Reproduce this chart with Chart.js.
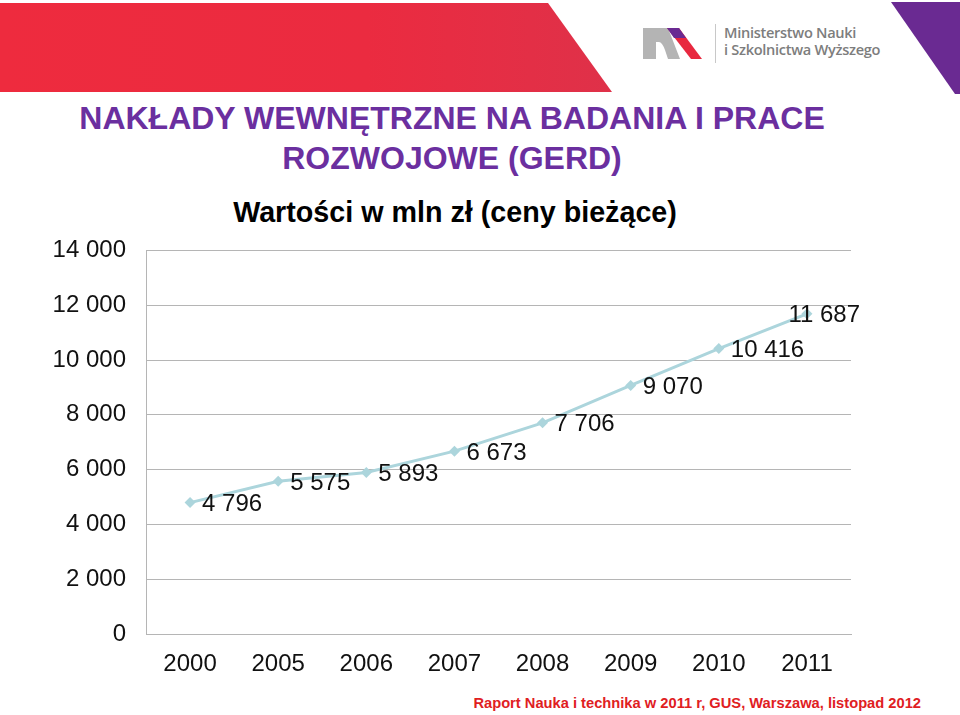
<!DOCTYPE html>
<html>
<head>
<meta charset="utf-8">
<script src="https://cdn.jsdelivr.net/npm/chart.js@4"></script>
<style>
  html, body { margin: 0; padding: 0; background: #fff; }
  body { width: 960px; height: 715px; position: relative; overflow: hidden; font-family: Arial, "Liberation Sans", sans-serif; }
  .title { position: absolute; left: 0; top: 98px; width: 904px; text-align: center; color: #6b2f9f; font-weight: bold; font-size: 32px; line-height: 40px; }
  .subtitle { position: absolute; left: 0; top: 196px; width: 910px; text-align: center; color: #000; font-weight: bold; font-size: 28.7px; line-height: 32px; }
  .source { position: absolute; right: 39px; top: 693px; color: #e0201f; font-weight: bold; font-size: 14.7px; line-height: 20px; }
  .logoText { position: absolute; left: 724px; top: 24px; color: #7d7d7d; font-family: "Open Sans", sans-serif; font-weight: 600; font-size: 14.6px; line-height: 17px; letter-spacing: -0.3px; }
  .chartBox { position: absolute; left: 0; top: 216px; width: 960px; height: 474px; }
</style>
</head>
<body>
<svg width="960" height="100" style="position:absolute;left:0;top:0">
  <defs>
    <linearGradient id="red" x1="0" x2="1" y1="0" y2="0">
      <stop offset="0" stop-color="#ee2b3e"/>
      <stop offset="0.6" stop-color="#eb2b40"/>
      <stop offset="1" stop-color="#df3149"/>
    </linearGradient>
  </defs>
  <polygon points="0,3 548,3 612,92 0,92" fill="url(#red)"/>
  <polygon points="891,2 960,2 960,94 955,94" fill="#6a2a92"/>
  <!-- logo mark -->
  <path d="M643,59 L643,28 L668,28 L680,59 L668,59 L665,50 Q662,42 659,42 L656,42 L656,59 Z" fill="#b4b4b4"/>
  <polygon points="667,28 679,28 702,59 691,59" fill="#e8283f"/>
  <polygon points="667,28 679,28 686,38 674,38" fill="#6a2a92"/>
  <line x1="715.5" y1="24" x2="715.5" y2="63" stroke="#c8c8c8" stroke-width="1"/>
</svg>
<div class="logoText">Ministerstwo Nauki<br>i Szkolnictwa Wyższego</div>

<div class="title">NAKŁADY WEWNĘTRZNE NA BADANIA I PRACE<br>ROZWOJOWE (GERD)</div>
<div class="subtitle">Wartości w mln zł (ceny bieżące)</div>

<div class="chartBox"><canvas id="chart"></canvas></div>

<div class="source">Raport Nauka i technika w 2011 r, GUS, Warszawa, listopad 2012</div>

<script>
// dane: nakłady GERD, mln zł
const years = ['2000', '2005', '2006', '2007', '2008', '2009', '2010', '2011'];
const gerdValues = [4796, 5575, 5893, 6673, 7706, 9070, 10416, 11687];
const yTicks = [0, 2000, 4000, 6000, 8000, 10000, 12000, 14000];

const fmt = (v) => String(v).replace(/\B(?=(\d{3})+(?!\d))/g, ' ');

// etykiety wartości obok punktów (jak w Excelu: po prawej)
const valueLabels = {
    id: 'valueLabels',
    afterDatasetsDraw(chart) {
        const ctx = chart.ctx;
        const meta = chart.getDatasetMeta(0);
        const area = chart.chartArea;
        ctx.save();
        ctx.font = '24px Arial, "Liberation Sans", sans-serif';
        ctx.fillStyle = '#111';
        ctx.textBaseline = 'middle';
        ctx.textAlign = 'left';
        meta.data.forEach((pt, i) => {
            const txt = fmt(gerdValues[i]);
            const w = ctx.measureText(txt).width;
            const x = Math.min(pt.x + 12, area.right + 9 - w);
            ctx.fillText(txt, x, pt.y + 2);
        });
        ctx.restore();
    }
};

const lineColor = '#acd5dc';
const gridColor = '#b5b5b5';

new Chart(document.getElementById('chart'), {
    type: 'line',
    data: {
        labels: years,
        datasets: [{
            label: 'GERD',
            data: gerdValues,
            borderColor: lineColor,
            backgroundColor: lineColor,
            borderWidth: 3,
            pointStyle: 'rectRot',
            pointRadius: 5.5,
            pointBorderWidth: 0,
            tension: 0
        }]
    },
    options: {
        responsive: true,
        maintainAspectRatio: false,
        animation: false,
        layout: { padding: { left: 40, right: 109, top: 19, bottom: 0 } },
        plugins: {
            legend: { display: false },
            tooltip: { enabled: false }
        },
        scales: {
            x: {
                offset: true,
                grid: { display: false, drawTicks: false },
                border: { display: true, color: gridColor, width: 1 },
                ticks: {
                    color: '#111',
                    padding: 16,
                    font: { family: 'Arial, "Liberation Sans", sans-serif', size: 24 }
                },
                afterFit: (s) => { s.height = 56; }
            },
            y: {
                min: 0,
                max: 14000,
                afterBuildTicks: (s) => { s.ticks = yTicks.map(v => ({ value: v })); },
                grid: { color: gridColor, lineWidth: 1, drawTicks: false },
                border: { display: true, color: gridColor, width: 1 },
                ticks: {
                    color: '#111',
                    padding: 20,
                    font: { family: 'Arial, "Liberation Sans", sans-serif', size: 24 },
                    callback: (v) => fmt(v)
                },
                afterFit: (s) => { s.width = 106; }
            }
        }
    },
    plugins: [valueLabels]
});
</script>
</body>
</html>
